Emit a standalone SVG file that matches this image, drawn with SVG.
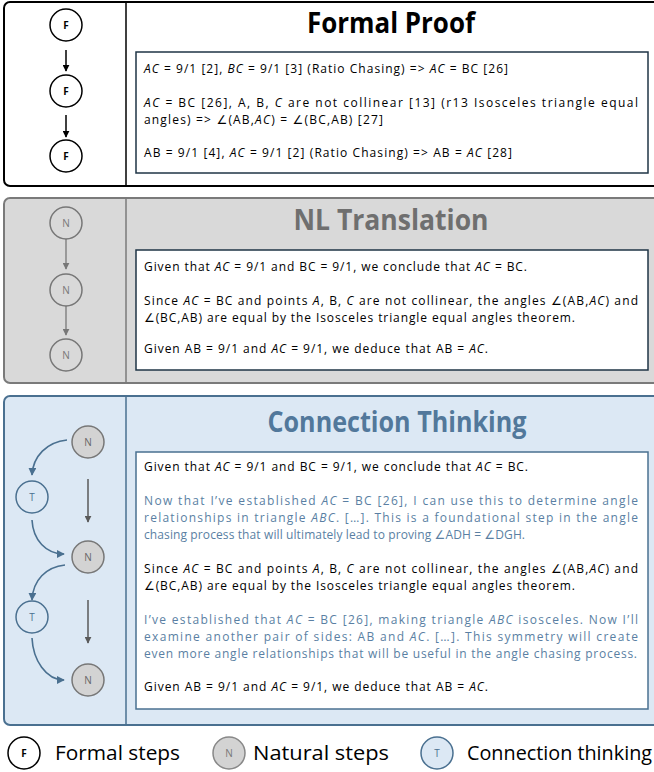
<svg xmlns="http://www.w3.org/2000/svg" width="654" height="772" viewBox="0 0 654 772">
<defs>
<style>
text{font-family:"Open Sans","DejaVu Sans",sans-serif}
.body{font-size:12px;fill:#000}
.blue{fill:#5a7fa3}
.it{font-style:italic}
.title{font-size:28px;font-weight:bold;text-anchor:middle}
.nl{font-size:10px;text-anchor:middle}
.leg{font-size:20px;fill:#000}
.conn{fill:none}
</style>
<marker id="ab" viewBox="0 0 10 10" refX="9" refY="5" markerWidth="7" markerHeight="7" markerUnits="userSpaceOnUse" orient="auto"><path d="M0,0L10,5L0,10z" fill="#000"/></marker>
<marker id="ag" viewBox="0 0 10 10" refX="9" refY="5" markerWidth="7" markerHeight="7" markerUnits="userSpaceOnUse" orient="auto"><path d="M0,0L10,5L0,10z" fill="#777"/></marker>
<marker id="ad" viewBox="0 0 10 10" refX="9" refY="5" markerWidth="7" markerHeight="7" markerUnits="userSpaceOnUse" orient="auto"><path d="M0,0L10,5L0,10z" fill="#5a5a5a"/></marker>
<marker id="au" viewBox="0 0 10 10" refX="9" refY="5" markerWidth="8" markerHeight="8" markerUnits="userSpaceOnUse" orient="auto"><path d="M0,0L10,5L0,10z" fill="#4a7090"/></marker>
</defs>
<rect width="654" height="772" fill="#fff"/>

<!-- Panel 1 -->
<g id="panel-formal">
<rect x="4" y="2" width="660" height="184" rx="6" fill="#fff" stroke="#000" stroke-width="2"/>
<line x1="126" y1="2" x2="126" y2="186" stroke="#000" stroke-width="1.5"/>
<text class="title" x="391" y="33" textLength="168" lengthAdjust="spacingAndGlyphs" fill="#000">Formal Proof</text>
<rect x="136" y="52" width="512" height="121" fill="#fff" stroke="#1f3546" stroke-width="1.5"/>
<text class="body" x="144" y="73" textLength="364" lengthAdjust="spacing"><tspan class="it">AC</tspan> = 9/1 [2], <tspan class="it">BC</tspan> = 9/1 [3] (Ratio Chasing) =&gt; <tspan class="it">AC</tspan> = BC [26]</text>
<text class="body" x="144" y="107" textLength="494" lengthAdjust="spacing"><tspan class="it">AC</tspan> = BC [26], A, B, <tspan class="it">C</tspan> are not collinear [13] (r13 Isosceles triangle equal</text>
<text class="body" x="144" y="124" textLength="239" lengthAdjust="spacing">angles) =&gt; ∠(AB,<tspan class="it">AC</tspan>) = ∠(BC,AB) [27]</text>
<text class="body" x="144" y="157" textLength="368" lengthAdjust="spacing">AB = 9/1 [4], <tspan class="it">AC</tspan> = 9/1 [2] (Ratio Chasing) =&gt; AB = <tspan class="it">AC</tspan> [28]</text>
</g>

<!-- Panel 2 -->
<g id="panel-nl">
<rect x="4" y="198" width="660" height="185" rx="6" fill="#d9d9d9" stroke="#7a7a7a" stroke-width="2"/>
<line x1="126" y1="198" x2="126" y2="383" stroke="#7a7a7a" stroke-width="1.5"/>
<text class="title" x="391" y="230" textLength="195" lengthAdjust="spacingAndGlyphs" fill="#6f6f6f">NL Translation</text>
<rect x="136" y="250" width="512" height="120" fill="#fff" stroke="#1f3546" stroke-width="1.5"/>
<text class="body" x="144" y="271" textLength="383" lengthAdjust="spacing">Given that <tspan class="it">AC</tspan> = 9/1 and BC = 9/1, we conclude that <tspan class="it">AC</tspan> = BC.</text>
<text class="body" x="144" y="305" textLength="494" lengthAdjust="spacing">Since <tspan class="it">AC</tspan> = BC and points <tspan class="it">A</tspan>, B, <tspan class="it">C</tspan> are not collinear, the angles ∠(AB,<tspan class="it">AC</tspan>) and</text>
<text class="body" x="144" y="322" textLength="431" lengthAdjust="spacing">∠(BC,AB) are equal by the Isosceles triangle equal angles theorem.</text>
<text class="body" x="144" y="353" textLength="344" lengthAdjust="spacing">Given AB = 9/1 and <tspan class="it">AC</tspan> = 9/1, we deduce that AB = <tspan class="it">AC</tspan>.</text>
</g>

<!-- Panel 3 -->
<g id="panel-ct">
<rect x="4" y="396" width="660" height="329" rx="6" fill="#dce8f4" stroke="#4a7090" stroke-width="2"/>
<line x1="126" y1="396" x2="126" y2="725" stroke="#4a7090" stroke-width="1.5"/>
<text class="title" x="397" y="432" textLength="259" lengthAdjust="spacingAndGlyphs" fill="#52789b">Connection Thinking</text>
<rect x="136" y="452" width="512" height="257" fill="#fff" stroke="#4a7090" stroke-width="1.5"/>
<text class="body" x="144" y="471" textLength="384" lengthAdjust="spacing">Given that <tspan class="it">AC</tspan> = 9/1 and BC = 9/1, we conclude that <tspan class="it">AC</tspan> = BC.</text>
<text class="body blue" x="144" y="505" textLength="494" lengthAdjust="spacing">Now that I’ve established <tspan class="it">AC</tspan> = BC [26], I can use this to determine angle</text>
<text class="body blue" x="144" y="522" textLength="494" lengthAdjust="spacing">relationships in triangle <tspan class="it">ABC</tspan>. […]. This is a foundational step in the angle</text>
<text class="body blue" x="144" y="539" textLength="381" lengthAdjust="spacing">chasing process that will ultimately lead to proving ∠ADH = ∠DGH.</text>
<text class="body" x="144" y="573" textLength="494" lengthAdjust="spacing">Since <tspan class="it">AC</tspan> = BC and points <tspan class="it">A</tspan>, B, <tspan class="it">C</tspan> are not collinear, the angles ∠(AB,<tspan class="it">AC</tspan>) and</text>
<text class="body" x="144" y="590" textLength="431" lengthAdjust="spacing">∠(BC,AB) are equal by the Isosceles triangle equal angles theorem.</text>
<text class="body blue" x="144" y="624" textLength="494" lengthAdjust="spacing">I’ve established that <tspan class="it">AC</tspan> = BC [26], making triangle <tspan class="it">ABC</tspan> isosceles. Now I’ll</text>
<text class="body blue" x="144" y="641" textLength="494" lengthAdjust="spacing">examine another pair of sides: AB and <tspan class="it">AC</tspan>. […]. This symmetry will create</text>
<text class="body blue" x="144" y="658" textLength="493" lengthAdjust="spacing">even more angle relationships that will be useful in the angle chasing process.</text>
<text class="body" x="144" y="691" textLength="344" lengthAdjust="spacing">Given AB = 9/1 and <tspan class="it">AC</tspan> = 9/1, we deduce that AB = <tspan class="it">AC</tspan>.</text>
</g>

<!-- Connectors -->
<g id="connectors" class="conn">
<line x1="66" y1="50" x2="66" y2="71" stroke="#000" stroke-width="1.5" marker-end="url(#ab)"/>
<line x1="66" y1="115" x2="66" y2="137" stroke="#000" stroke-width="1.5" marker-end="url(#ab)"/>
<line x1="66" y1="239" x2="66" y2="269" stroke="#777" stroke-width="1.3" marker-end="url(#ag)"/>
<line x1="66" y1="305" x2="66" y2="335" stroke="#777" stroke-width="1.3" marker-end="url(#ag)"/>
<line x1="88" y1="479" x2="88" y2="522" stroke="#5a5a5a" stroke-width="1.5" marker-end="url(#ad)"/>
<line x1="88" y1="600" x2="88" y2="643" stroke="#5a5a5a" stroke-width="1.5" marker-end="url(#ad)"/>
<path d="M67,440 C47,442 33,456 32,475" stroke="#4a7090" stroke-width="1.6" marker-end="url(#au)"/>
<path d="M32,520 C33,540 46,554 64,554" stroke="#4a7090" stroke-width="1.6" marker-end="url(#au)"/>
<path d="M65,565 C46,567 33,580 32,600" stroke="#4a7090" stroke-width="1.6" marker-end="url(#au)"/>
<path d="M32,638 C33,660 46,680 64,680" stroke="#4a7090" stroke-width="1.6" marker-end="url(#au)"/>
</g>

<!-- Nodes -->
<g id="f1"><circle cx="66" cy="25" r="16" fill="#fff" stroke="#000" stroke-width="1.5"/><text class="nl" x="66" y="29" font-weight="bold">F</text></g>
<g id="f2"><circle cx="66" cy="91" r="16" fill="#fff" stroke="#000" stroke-width="1.5"/><text class="nl" x="66" y="95" font-weight="bold">F</text></g>
<g id="f3"><circle cx="66" cy="156" r="16" fill="#fff" stroke="#000" stroke-width="1.5"/><text class="nl" x="66" y="160" font-weight="bold">F</text></g>

<g id="n1"><circle cx="66" cy="223" r="16" fill="#d9d9d9" stroke="#777" stroke-width="1.5"/><text class="nl" x="66" y="227" fill="#777">N</text></g>
<g id="n2"><circle cx="66" cy="290" r="16" fill="#d9d9d9" stroke="#777" stroke-width="1.5"/><text class="nl" x="66" y="294" fill="#777">N</text></g>
<g id="n3"><circle cx="66" cy="355" r="16" fill="#d9d9d9" stroke="#777" stroke-width="1.5"/><text class="nl" x="66" y="359" fill="#777">N</text></g>

<g id="cn1"><circle cx="88" cy="442" r="16" fill="#d3d3d3" stroke="#777" stroke-width="1.5"/><text class="nl" x="88" y="446" fill="#666">N</text></g>
<g id="cn2"><circle cx="88" cy="557" r="16" fill="#d3d3d3" stroke="#777" stroke-width="1.5"/><text class="nl" x="88" y="561" fill="#666">N</text></g>
<g id="cn3"><circle cx="88" cy="680" r="16" fill="#d3d3d3" stroke="#777" stroke-width="1.5"/><text class="nl" x="88" y="684" fill="#666">N</text></g>
<g id="t1"><circle cx="32" cy="497" r="16" fill="#dce8f4" stroke="#4a7090" stroke-width="1.5"/><text class="nl" x="32" y="501" fill="#4a7090">T</text></g>
<g id="t2"><circle cx="32" cy="617" r="16" fill="#dce8f4" stroke="#4a7090" stroke-width="1.5"/><text class="nl" x="32" y="621" fill="#4a7090">T</text></g>

<!-- Legend -->
<g id="legend-f"><circle cx="24" cy="753" r="16" fill="#fff" stroke="#000" stroke-width="1.5"/><text class="nl" x="24" y="757" font-weight="bold">F</text><text class="leg" x="55" y="760" textLength="125" lengthAdjust="spacingAndGlyphs">Formal steps</text></g>
<g id="legend-n"><circle cx="229" cy="753" r="16" fill="#d3d3d3" stroke="#888" stroke-width="1.5"/><text class="nl" x="229" y="757" fill="#777">N</text><text class="leg" x="253" y="760" textLength="136" lengthAdjust="spacingAndGlyphs">Natural steps</text></g>
<g id="legend-t"><circle cx="437" cy="753" r="16" fill="#dce8f4" stroke="#4a7090" stroke-width="1.5"/><text class="nl" x="437" y="757" fill="#4a7090">T</text><text class="leg" x="467" y="760" textLength="185" lengthAdjust="spacingAndGlyphs">Connection thinking</text></g>
</svg>
